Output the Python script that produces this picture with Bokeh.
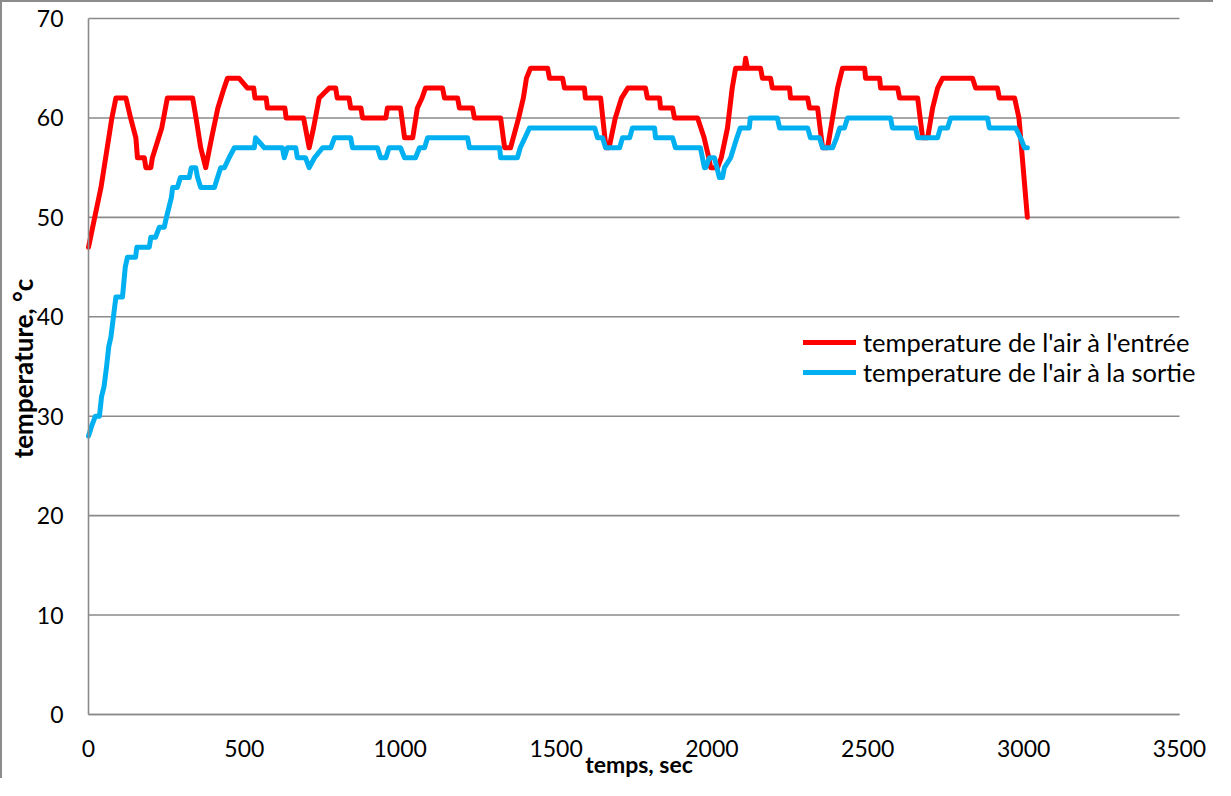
import math
from bokeh.plotting import figure
from bokeh.models import Range1d, Legend, LegendItem, FixedTicker, Label
from bokeh.embed import file_html
from bokeh.resources import INLINE

# ---- data ----
red_t = [0, 20, 40, 60, 75, 88, 120, 135, 152, 157, 179, 184, 200, 205, 215, 235, 253, 334, 345, 360, 376,
         395, 415, 435, 446, 483, 510, 530, 534, 570, 574, 630, 634, 690, 708, 722, 740, 772, 793, 798, 836,
         841, 874, 879, 954, 959, 1001, 1014, 1040, 1055, 1070, 1081, 1136, 1142, 1184, 1190, 1232, 1238,
         1322, 1335, 1354, 1380, 1395, 1405, 1418, 1473, 1479, 1521, 1527, 1591, 1594, 1643, 1660, 1670,
         1690, 1710, 1730, 1787, 1793, 1832, 1835, 1874, 1880, 1954, 1975, 1990, 1996, 2018, 2030, 2050,
         2065, 2076, 2104, 2108, 2114, 2156, 2162, 2188, 2194, 2249, 2252, 2307, 2313, 2339, 2355, 2371,
         2387, 2403, 2419, 2490, 2493, 2538, 2541, 2596, 2602, 2660, 2676, 2692, 2708, 2724, 2740, 2836,
         2846, 2916, 2922, 2971, 2985, 3012]
red_v = [47, 50, 53, 57, 60, 62, 62, 60, 58, 56, 56, 55, 55, 56, 57, 59, 62, 62, 60, 57, 55,
         58, 61, 63, 64, 64, 63, 63, 62, 62, 61, 61, 60, 60, 57, 59, 62, 63, 63, 62, 62,
         61, 61, 60, 60, 61, 61, 58, 58, 61, 62, 63, 63, 62, 62, 61, 61, 60,
         60, 57, 57, 60, 62, 64, 65, 65, 64, 64, 63, 63, 62, 62, 57, 57,
         60, 62, 63, 63, 62, 62, 61, 61, 60, 60, 58, 56, 55, 55, 56, 59,
         63, 65, 65, 66, 65, 65, 64, 64, 63, 63, 62, 62, 61, 61, 57, 57,
         60, 63, 65, 65, 64, 64, 63, 63, 62, 62, 58, 58, 61, 63, 64, 64,
         63, 63, 62, 62, 60, 50]

blue_t = [0, 10, 22, 35, 42, 50, 58, 65, 72, 80, 88, 109, 118, 125, 151, 155, 195, 200, 215, 227, 243,
          250, 258, 266, 270, 285, 295, 323, 330, 344, 350, 360, 404, 414, 424, 436, 451, 468, 532, 536,
          564, 622, 628, 638, 665, 670, 696, 708, 725, 751, 777, 789, 841, 847, 927, 937, 954, 964, 1001,
          1014, 1049, 1062, 1078, 1088, 1216, 1222, 1319, 1322, 1376, 1385, 1400, 1415, 1624, 1633, 1649,
          1659, 1704, 1713, 1736, 1745, 1816, 1819, 1874, 1883, 1963, 1976, 1980, 1992, 2008, 2024, 2034,
          2040, 2060, 2070, 2080, 2091, 2120, 2123, 2210, 2217, 2307, 2316, 2345, 2355, 2387, 2400, 2410,
          2425, 2435, 2573, 2579, 2653, 2660, 2724, 2733, 2756, 2766, 2884, 2890, 2974, 2990, 3003, 3012]
blue_v = [28, 29, 30, 30, 32, 33, 35, 37, 38, 40, 42, 42, 45, 46, 46, 47, 47, 48, 48, 49, 49,
          50, 51, 52, 53, 53, 54, 54, 55, 55, 54, 53, 53, 54, 55, 55, 56, 57, 57, 58,
          57, 57, 56, 57, 57, 56, 56, 55, 56, 57, 57, 58, 58, 57, 57, 56, 56, 57, 57,
          56, 56, 57, 57, 58, 58, 57, 57, 56, 56, 57, 58, 59, 59, 58, 58,
          57, 57, 58, 58, 59, 59, 58, 58, 57, 57, 55, 55, 56, 56, 54, 54,
          55, 56, 57, 58, 59, 59, 60, 60, 59, 59, 58, 58, 57, 57, 58, 59,
          59, 60, 60, 59, 59, 58, 58, 59, 59, 60, 60, 59, 59, 58, 57, 57]

series_names = ["temperature de l'air à l'entrée", "temperature de l'air à la sortie"]
x_ticks = [0, 500, 1000, 1500, 2000, 2500, 3000, 3500]
y_ticks = [0, 10, 20, 30, 40, 50, 60, 70]
x_title = "temps, sec"
y_title = "temperature, °c"

FONT = "Lato"
GRID = "#8a8a8a"

# The frame covers the whole canvas; the axes sit at x=0 / y=0 so that the
# legend (which runs past the last tick in the reference) is not clipped.
p = figure(width=1213, height=778, output_backend="svg", toolbar_location=None,
           x_range=Range1d(-275.9, 3615.5), y_range=Range1d(-6.638, 71.61),
           min_border_left=0, min_border_right=0, min_border_top=0, min_border_bottom=0)
p.styles = {"border-left": "2px solid #8c8c8c", "border-top": "2px solid #8c8c8c"}
p.outline_line_color = None
p.background_fill_color = "white"
p.border_fill_color = "white"
p.xgrid.visible = False
p.ygrid.visible = False

# horizontal gridlines, from the first to the last x tick
n = len(y_ticks)
p.segment(x0=[x_ticks[0]] * n, x1=[x_ticks[-1]] * n, y0=y_ticks, y1=y_ticks,
          line_color=GRID, line_width=1.6)

for ax in (p.xaxis[0], p.yaxis[0]):
    ax.fixed_location = 0
    ax.axis_line_color = GRID
    ax.axis_line_width = 1.6
    ax.major_tick_line_color = None
    ax.minor_tick_line_color = None
    ax.major_tick_in = 0
    ax.major_tick_out = 0
    ax.minor_tick_in = 0
    ax.minor_tick_out = 0
    ax.major_label_text_font = FONT
    ax.major_label_text_font_size = "23px"
    ax.major_label_text_color = "black"

p.xaxis[0].ticker = FixedTicker(ticks=x_ticks)
p.yaxis[0].ticker = FixedTicker(ticks=y_ticks)
p.xaxis[0].bounds = (x_ticks[0], x_ticks[-1])
p.yaxis[0].bounds = (y_ticks[0], y_ticks[-1])
p.xaxis[0].major_label_standoff = 25
p.yaxis[0].major_label_standoff = 25

# axis titles
p.add_layout(Label(x=1766, y=-4.93, text=x_title, text_align="center", text_baseline="middle",
                   text_font=FONT, text_font_size="23px", text_font_style="bold",
                   text_color="black"))
p.add_layout(Label(x=-209, y=34.8, text=y_title, angle=math.pi / 2, text_align="center",
                   text_baseline="middle", text_font=FONT, text_font_size="26px",
                   text_font_style="bold", text_color="black"))

r_red = p.line(red_t, red_v, line_color="#ff0000", line_width=5, line_join="round", line_cap="round")
r_blue = p.line(blue_t, blue_v, line_color="#00b0f0", line_width=5, line_join="round", line_cap="round")

legend = Legend(items=[LegendItem(label=series_names[0], renderers=[r_red]),
                       LegendItem(label=series_names[1], renderers=[r_blue])],
                location=(801, 393), orientation="vertical",
                glyph_width=53, glyph_height=30, label_height=30, spacing=-2, label_standoff=7,
                padding=0, margin=0, border_line_color=None, background_fill_alpha=0,
                label_text_font=FONT, label_text_font_size="25.5px", label_text_color="black")
p.add_layout(legend)

open("out.html", "w").write(file_html(p, INLINE))
